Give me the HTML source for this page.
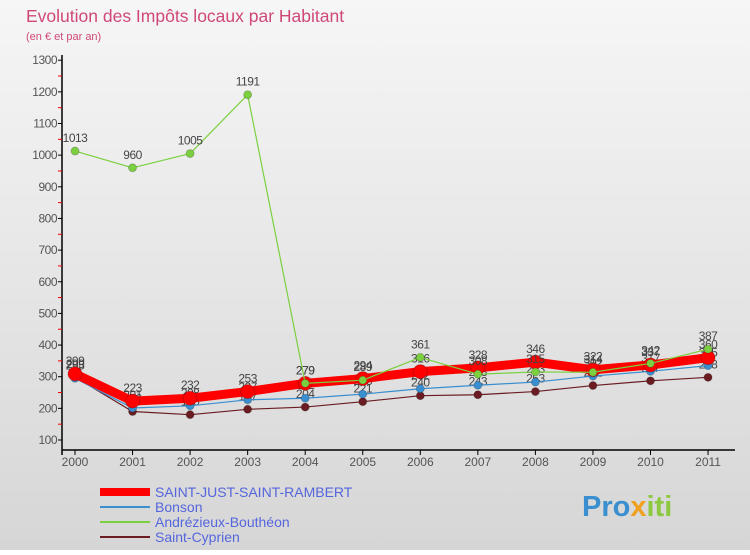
<!DOCTYPE html>
<html><head><meta charset="utf-8"><style>
body{margin:0;width:750px;height:550px;overflow:hidden;font-family:"Liberation Sans",sans-serif}
</style></head><body>
<svg id="c" width="750" height="550" xmlns="http://www.w3.org/2000/svg">
<defs><linearGradient id="bg" x1="0" y1="0" x2="0" y2="1"><stop offset="0" stop-color="#f6f6f6"/><stop offset="1" stop-color="#d6d6d6"/></linearGradient></defs>
<rect width="750" height="550" fill="url(#bg)"/>
<text x="26" y="22" font-size="17.5" fill="#d0487a">Evolution des Impôts locaux par Habitant</text>
<text x="26" y="40" font-size="11" fill="#d0487a">(en € et par an)</text>
<g id="axes"></g><g id="marks"></g><g id="legend"></g>
<text x="582" y="516" font-size="29" font-weight="bold" fill="#3a8fd0">Pro<tspan fill="#f0a020">x</tspan><tspan fill="#8cc840">iti</tspan></text>
</svg>
<script>
const years=["2000","2001","2002","2003","2004","2005","2006","2007","2008","2009","2010","2011"];
const yTicks=[100,200,300,400,500,600,700,800,900,1000,1100,1200,1300];
const sjsr=[309,223,232,253,279,294,316,328,346,322,337,360];
const bonson=[295,201,208,227,232,245,262,273,283,302,317,335];
const andrez=[1013,960,1005,1191,279,289,361,308,315,314,342,387];
const cyprien=[299,190,180,197,204,221,240,243,253,272,287,298];
const NS="http://www.w3.org/2000/svg";
function X(i){return 75+i*57.55;}
function Y(v){return 440-(v-100)*0.3165;}
function mk(t,a,p){const e=document.createElementNS(NS,t);for(const k in a)e.setAttribute(k,a[k]);p.appendChild(e);return e;}
const ax=document.getElementById('axes'),mg=document.getElementById('marks'),lg=document.getElementById('legend');
const yl=mk('line',{x1:62,y1:55,x2:62,y2:455,stroke:'#000','stroke-width':1.5},ax);

const xl=mk('line',{x1:62,y1:450,x2:735,y2:450,stroke:'#000','stroke-width':1.5},ax);

yTicks.forEach((v,i)=>{const y=Y(v);
 mk('line',{x1:58,y1:y,x2:62,y2:y,stroke:'#000'},ax);
 if(i<yTicks.length-1)mk('line',{x1:58,y1:Y(v+50),x2:62,y2:Y(v+50),stroke:'#e00'},ax);
 const t=mk('text',{x:57,y:y+4,'font-size':12,'text-anchor':'end',fill:'#555','letter-spacing':'-0.5'},ax);t.textContent=v;
 });
years.forEach((yr,i)=>{const x=X(i);mk('line',{x1:x,y1:450,x2:x,y2:455,stroke:'#000'},ax);
 const t=mk('text',{x:x,y:466,'font-size':12,'text-anchor':'middle',fill:'#555'},ax);t.textContent=yr;
 });
function series(name,vals,color,w,r){
 const g=mk('g',{},mg);
 const pl=mk('polyline',{points:vals.map((v,i)=>X(i)+','+Y(v)).join(' '),fill:'none',stroke:color,'stroke-width':w,'stroke-linejoin':'round'},g);
 
 vals.forEach((v,i)=>{const c=mk('circle',{cx:X(i),cy:Y(v),r:r,fill:color,stroke:'#0003'},g);
  
  const t=mk('text',{x:X(i),y:Y(v)-9,'font-size':12,'text-anchor':'middle',fill:'#444','letter-spacing':'-0.5'},g);t.textContent=v;
  });
}
series('saint-cyprien',cyprien,'#6b1c22',1.2,4);
series('bonson',bonson,'#3a8fd0',1.2,4);
series('sjsr',sjsr,'#ff0000',9,7);
series('andrezieux',andrez,'#7cd040',1.2,4);
const leg=[["SAINT-JUST-SAINT-RAMBERT","#ff0000",8],["Bonson","#3a8fd0",2],["Andrézieux-Bouthéon","#7cd040",2],["Saint-Cyprien","#6b1c22",2]];
leg.forEach((l,i)=>{const y=492+i*15;
 const g=mk('g',{},lg);
 mk('line',{x1:100,y1:y,x2:150,y2:y,stroke:l[1],'stroke-width':l[2]},g);
 const t=mk('text',{x:155,y:y+5,'font-size':14,fill:'#5566dd'},g);t.textContent=l[0];});
</script>
</body></html>
